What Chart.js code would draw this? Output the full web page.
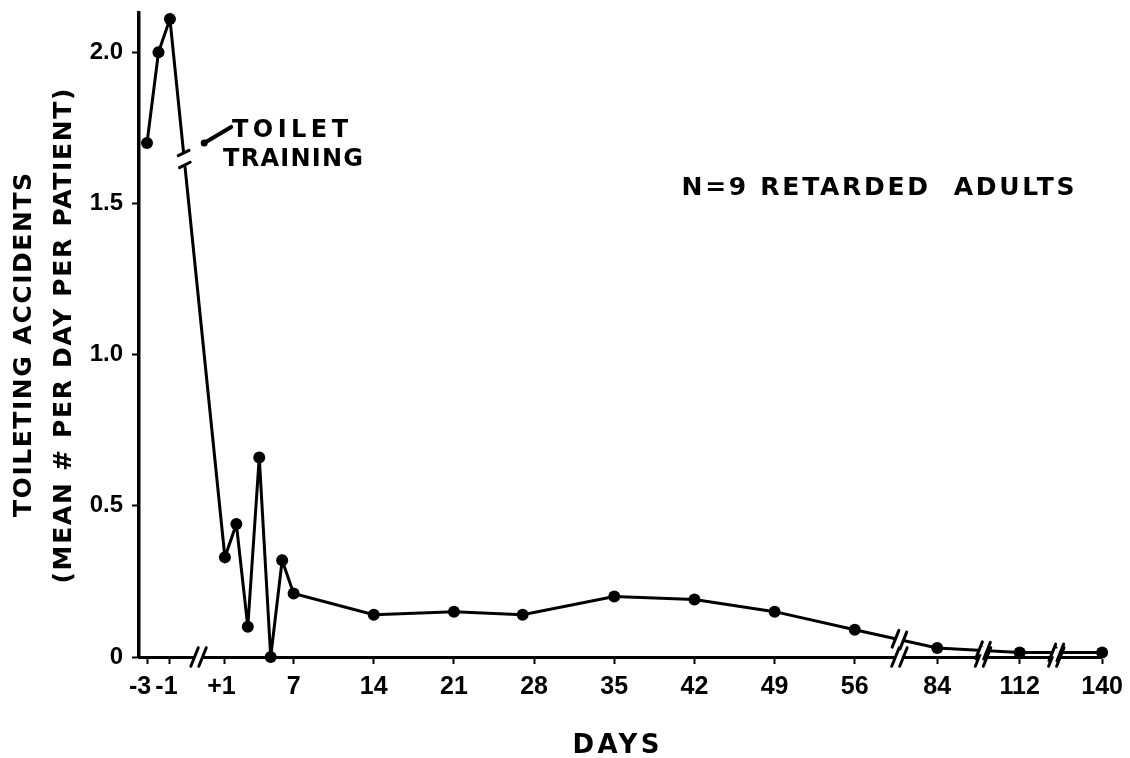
<!DOCTYPE html>
<html>
<head>
<meta charset="utf-8">
<script src="https://cdn.jsdelivr.net/npm/chart.js@4/dist/chart.umd.min.js"></script>
<style>
  html, body { margin: 0; padding: 0; background: #fff; }
  canvas { display: block; }
</style>
</head>
<body>
<canvas id="chart" width="1130" height="758"></canvas>
<script>
    // days relative to the start of toilet training
    const days = [-3, -2, -1, 1, 2, 3, 4, 5, 6, 7, 14, 21, 27, 35, 42, 49, 56, 84, 112, 140];
    // mean toileting accidents per day per patient
    const accidents = [1.70, 2.00, 2.11, 0.33, 0.44, 0.10, 0.66, 0.00, 0.32, 0.21,
                       0.14, 0.15, 0.14, 0.20, 0.19, 0.15, 0.09, 0.03, 0.015, 0.015];

    const tickDays = [-3, -1, 1, 7, 14, 21, 28, 35, 42, 49, 56, 84, 112, 140];
    const tickLabels = ['-3  ', '-1 ', '+1 ', '7', '14', '21', '28', '35', '42', '49', '56', '84', '112', '140'];
    const yTicks = [0, 0.5, 1.0, 1.5, 2.0];
    const yTickLabels = ['0', '0.5', '1.0', '1.5', '2.0'];

    // the day axis is broken: a gap before training, then days 56..140 squeezed
    function axisPos(day) {
        if (day < 0) return day - 2.8;
        if (day <= 56) return day;
        return 56 + (day - 56) / 28 * 7.2;
    }

    const axisBreaks = [-1.3, 59.9, 67.2, 73.6];
    const lineBreaks = [59.9, 67.2, 73.6];

    const tickFont = "'Liberation Sans', Arial, sans-serif";
    const textFont = "'DejaVu Sans', Verdana, sans-serif";

    function drawBreak(ctx, px, py, dx, dy, gap, mx, my, len) {
        const dl = Math.hypot(dx, dy); dx /= dl; dy /= dl;
        const ml = Math.hypot(mx, my); mx /= ml; my /= ml;
        ctx.save();
        ctx.strokeStyle = '#fff';
        ctx.lineWidth = 8;
        ctx.beginPath();
        ctx.moveTo(px - gap * dx, py - gap * dy);
        ctx.lineTo(px + gap * dx, py + gap * dy);
        ctx.stroke();
        ctx.strokeStyle = '#000';
        ctx.lineWidth = 3;
        ctx.lineCap = 'round';
        [-gap, gap].forEach(s => {
            const cx = px + s * dx, cy = py + s * dy;
            ctx.beginPath();
            ctx.moveTo(cx - len * mx, cy - len * my);
            ctx.lineTo(cx + len * mx, cy + len * my);
            ctx.stroke();
        });
        ctx.restore();
    }

    // centred text stretched with letter spacing to a given width
    function fitText(ctx, text, x, y, size, width) {
        ctx.font = `bold ${size}px ${textFont}`;
        ctx.letterSpacing = '0px';
        const w = ctx.measureText(text).width;
        const sp = Math.max(0, (width - w) / (text.length - 1));
        ctx.letterSpacing = sp + 'px';
        ctx.textAlign = 'center';
        ctx.textBaseline = 'middle';
        ctx.fillText(text, x + sp / 2, y);
        ctx.letterSpacing = '0px';
    }

    const decorPlugin = {
        id: 'decor',
        afterDraw(chart) {
            const ctx = chart.ctx;
            const xs = chart.scales.x;
            const area = chart.chartArea;
            const pts = chart.getDatasetMeta(0).data;

            // axis breaks
            axisBreaks.forEach(u => {
                drawBreak(ctx, xs.getPixelForValue(u), area.bottom, 1, 0, 4, 0.4, -1, 10);
            });

            // breaks in the data line
            lineBreaks.forEach(u => {
                const x = xs.getPixelForValue(u);
                for (let i = 0; i < pts.length - 1; i++) {
                    const a = pts[i], b = pts[i + 1];
                    if (a.x <= x && x <= b.x) {
                        const t = (x - a.x) / (b.x - a.x);
                        drawBreak(ctx, x, a.y + t * (b.y - a.y), b.x - a.x, b.y - a.y, 4, 0.4, -1, 9);
                        break;
                    }
                }
            });

            // toilet training break on the drop after day -1
            const a = pts[2], b = pts[3];
            const t = 0.26;
            const bx = a.x + t * (b.x - a.x), by = a.y + t * (b.y - a.y);
            drawBreak(ctx, bx, by, b.x - a.x, b.y - a.y, 6, 1, -0.5, 6);

            // leader from the break to the label
            ctx.save();
            ctx.strokeStyle = '#000';
            ctx.fillStyle = '#000';
            ctx.lineWidth = 4;
            ctx.lineCap = 'round';
            ctx.beginPath();
            ctx.moveTo(bx + 20, by - 16);
            ctx.lineTo(bx + 47, by - 32);
            ctx.stroke();
            ctx.beginPath();
            ctx.arc(bx + 20, by - 16, 3.5, 0, Math.PI * 2);
            ctx.fill();

            fitText(ctx, 'TOILET', 290, 131, 24, 116);
            fitText(ctx, 'TRAINING', 293, 160, 24, 140);
            fitText(ctx, 'N=9 RETARDED  ADULTS', 878, 188, 25, 393);
            fitText(ctx, 'DAYS', 616, 746, 26, 87);

            // y axis title, two rotated lines
            ctx.save();
            ctx.translate(24, 345);
            ctx.rotate(-Math.PI / 2);
            fitText(ctx, 'TOILETING ACCIDENTS', 0, 0, 25, 344);
            ctx.restore();
            ctx.save();
            ctx.translate(64, 336);
            ctx.rotate(-Math.PI / 2);
            fitText(ctx, '(MEAN # PER DAY PER PATIENT)', 0, 0, 25, 495);
            ctx.restore();

            ctx.restore();
        }
    };

    const ctx = document.getElementById('chart').getContext('2d');
    const chart = new Chart(ctx, {
        type: 'line',
        data: {
            datasets: [{
                data: days.map((d, i) => ({ x: axisPos(d), y: accidents[i] })),
                borderColor: '#000',
                backgroundColor: '#000',
                borderWidth: 3,
                pointRadius: 6,
                pointBackgroundColor: '#000',
                pointBorderWidth: 0,
                tension: 0,
                clip: false
            }]
        },
        options: {
            responsive: false,
            animation: false,
            events: [],
            layout: { padding: { top: 13, right: 29, left: 0, bottom: 0 } },
            plugins: {
                legend: { display: false },
                tooltip: { enabled: false }
            },
            scales: {
                x: {
                    type: 'linear',
                    min: -6.5,
                    max: 77.5,
                    afterBuildTicks: (scale) => {
                        scale.ticks = tickDays.map(d => ({ value: axisPos(d) }));
                    },
                    afterFit: (scale) => {
                        scale.height = 101;
                        scale.paddingLeft = 0;
                        scale.paddingRight = 0;
                    },
                    ticks: {
                        autoSkip: false,
                        maxRotation: 0,
                        padding: 8,
                        color: '#000',
                        font: { family: tickFont, size: 25, weight: 'bold' },
                        callback: (value, index) => tickLabels[index]
                    },
                    grid: {
                        drawOnChartArea: false,
                        tickLength: 7,
                        tickWidth: 2,
                        tickColor: '#000'
                    },
                    border: { display: true, color: '#000', width: 3 }
                },
                y: {
                    min: 0,
                    max: 2.13,
                    afterBuildTicks: (scale) => {
                        scale.ticks = yTicks.map(v => ({ value: v }));
                    },
                    afterFit: (scale) => {
                        scale.width = 139;
                        scale.paddingTop = 0;
                        scale.paddingBottom = 0;
                    },
                    ticks: {
                        padding: 9,
                        color: '#000',
                        font: { family: tickFont, size: 24, weight: 'bold' },
                        callback: (value, index) => yTickLabels[index]
                    },
                    grid: {
                        drawOnChartArea: false,
                        tickLength: 7,
                        tickWidth: 2,
                        tickColor: '#000'
                    },
                    border: { display: true, color: '#000', width: 3.5 }
                }
            }
        },
        plugins: [decorPlugin]
    });
</script>
</body>
</html>
